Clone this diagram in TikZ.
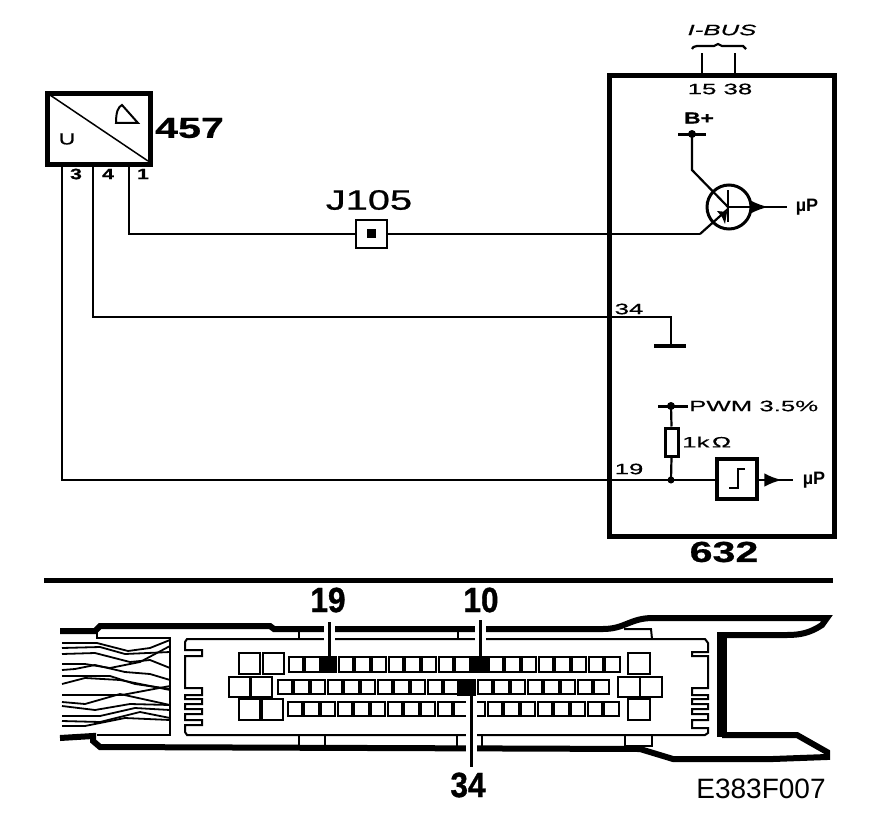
\documentclass[tikz,border=0pt]{standalone}
\usepackage{fontspec}
\usepackage{tikz}
\usetikzlibrary{decorations.markings}
\newfontfamily\smallfont[FakeStretch=1.72,FakeBold=0.6]{Liberation Sans}
\newfontfamily\widefont[FakeStretch=1.42,FakeBold=0.8]{Liberation Sans}
\newfontfamily\pinfont[FakeStretch=0.9,FakeBold=1]{Liberation Sans}
\newfontfamily\codefont{Liberation Sans}
\tikzset{>=latex}

\begin{document}
\begin{tikzpicture}[x=1pt, y=-1pt, line join=miter]
\tikzset{midarrow/.style={postaction={decorate,decoration={markings,mark=at position 0.68 with {\arrow[scale=1.7]{>}}}}}}
\tikzset{wire/.style={line width=2.2pt}}
\tikzset{thinlabel/.style={inner sep=0pt, font=\smallfont\fontsize{15}{15}\selectfont}}
\tikzset{biglabel/.style={inner sep=0pt, font=\widefont\bfseries\fontsize{29}{29}\selectfont}}
\tikzset{pinlabel/.style={inner sep=0pt, font=\pinfont\bfseries\fontsize{35}{35}\selectfont}}
\tikzset{unitbox/.style={draw, line width=5pt, inner sep=0pt}}
\tikzset{pinbox/.style={line width=2pt}}
\tikzset{pointer/.style={line width=3pt, preaction={draw=white, line width=11pt}}}
\tikzset{strand/.style={line width=1.8pt, line join=round}}
\useasboundingbox (0,0) rectangle (896,824);

    \node[unitbox, minimum width=102.5pt, minimum height=70.5pt] (Sensor) at (98.75,128.75) {};
    \node[unitbox, minimum width=225pt, minimum height=460.5pt] (Ecu) at (722,305.75) {};

    \coordinate (W3) at (62,166);
    \coordinate (W4) at (93,166);
    \coordinate (W1) at (129,166);
    \coordinate (Bus15) at (702,73);
    \coordinate (Bus38) at (735,73);
    \coordinate (Bus15t) at (702,53);
    \coordinate (Bus38t) at (735,53);

    \node[draw, line width=2pt, minimum width=31pt, minimum height=28pt, inner sep=0pt] (J105) at (371.5,234) {};
    \node[fill, minimum size=9pt, inner sep=0pt] (J105c) at (371.5,233.5) {};

    \node[circle, draw, line width=3pt, minimum size=44pt, inner sep=0pt] (Tr) at (729,207) {};
    \coordinate (TrB) at (728,207);
    \coordinate (TrE) at (728,209);
    \coordinate (TrEo) at (700,234);
    \coordinate (TrC) at (692,170);
    \coordinate (BatDot) at (692,134);
    \coordinate (TrOut) at (787,207);

    \coordinate (GndT) at (671,317);
    \coordinate (Gnd) at (671,346);
    \coordinate (PwmDot) at (671,406);
    \coordinate (Pull) at (671,480);

    \node[draw, line width=3pt, minimum width=13pt, minimum height=28pt, inner sep=0pt] (Res) at (671.5,442) {};
    \node[draw, line width=4pt, minimum width=40pt, minimum height=40pt, inner sep=0pt] (Trig) at (736.5,479) {};
    \coordinate (TrigOut) at (793,480);

% % % % % % % % % % % % % % % % % % %
    \draw[line width=1.5pt] (Sensor.north west) ++(2,2) -- (148,161);
    \draw[line width=2pt] (116,123) .. controls (116,112) and (118,107) .. (122,105) -- (138,123) -- cycle;
    \node[inner sep=0pt, font=\widefont\fontsize{16}{16}\selectfont] (SensorU) at (67,139) {U};
    \node[biglabel, anchor=west] (L457) at (155,128) {457};
    \node[inner sep=0pt, font=\widefont\bfseries\fontsize{15}{15}\selectfont] (L3) at (76,174) {3};
    \node[inner sep=0pt, font=\widefont\bfseries\fontsize{15}{15}\selectfont] (L4) at (108,174) {4};
    \node[inner sep=0pt, font=\widefont\bfseries\fontsize{15}{15}\selectfont] (L1) at (143,174) {1};

    \draw[wire] (W1) |- (J105.west);
    \draw[wire] (J105.east) -- (TrEo);
    \draw[wire] (W4) |- (GndT) -- (Gnd);
    \draw[wire] (W3) |- (Pull);
    \node[inner sep=0pt, font=\widefont\fontsize{28}{28}\selectfont] (LJ105) at (369,200) {J105};
% % % % % % % % % % % % % % % % % % %
    \draw[wire] (Bus15) -- (Bus15t);
    \draw[wire] (Bus38) -- (Bus38t);
    \draw[wire] (692,49) .. controls (693,47) .. (697,46) -- (714,46) -- (718,44) -- (722,46) -- (743,46) -- (746,49);
    \node[thinlabel, font=\smallfont\itshape\fontsize{15}{15}\selectfont] (LBus) at (722,30) {I-BUS};
    \node[thinlabel] (LPins) at (720,89) {15 38};

    \node[thinlabel, font=\widefont\bfseries\fontsize{16}{16}\selectfont] (LBat) at (699,118) {B+};
    \draw[line width=3pt] (678,134) -- (706,134);
    \fill (BatDot) circle (4);
    \draw[wire] (BatDot) -- (TrC) -- (TrB);
    \draw[line width=2pt] (728,190) -- (728,222);
    \draw[wire] (TrEo) -- (TrE);
    \fill (727,212) -- (717,211) -- (722,217) -- (725,224) -- cycle;
    \draw[line width=2.5pt, midarrow] (TrB) -- (TrOut);
    \node[thinlabel, font=\codefont\bfseries\fontsize{18}{18}\selectfont] (LTr) at (807,207) {µP};

    \node[thinlabel] (L34) at (629,309) {34};
    \draw[line width=4pt] (654,346) -- (686,346);

    \draw[line width=3pt] (658,406) -- (688,406);
    \fill (PwmDot) circle (4);
    \node[thinlabel, anchor=west] (LPwm) at (689,406) {PWM 3.5\%};
    \draw[wire] (PwmDot) -- (Res.north);
    \draw[wire] (Res.south) -- (Pull);
    \node[thinlabel, anchor=west] (LRes) at (682,442) {1k$\,$Ω};
    \node[thinlabel] (L19) at (629,469) {19};
    \fill (Pull) circle (3.5);
    \draw[wire] (Pull) -- (Trig.west |- Pull);
    \draw[wire] (729,488) -- (738,488) -- (738,469) -- (745,469);
    \draw[line width=2.5pt, midarrow] (Trig.east |- TrigOut) -- (TrigOut);
    \node[thinlabel, font=\codefont\bfseries\fontsize{18}{18}\selectfont] (LTrig) at (814,480) {µP};
    \node[biglabel] (L632) at (724,552) {632};
% % % % % % % % % % % % % % % % % % %
    \draw[line width=5pt] (44,580) -- (833,580);

    % housing of the plug
    \draw[line width=6pt] (60,631) -- (95,631) -- (100,626) -- (270,626) -- (274,629) -- (603,629)
        .. controls (625,629) and (630,618) .. (653,618) -- (827,618) -- (822,625)
        .. controls (810,633) and (800,635) .. (787,635) -- (722,635);
    \draw[line width=10pt] (722,632) -- (722,737);
    \draw[line width=6pt] (722,735) -- (797,735) -- (827,752) -- (827,757) -- (773,759) -- (673,759)
        -- (640,749) -- (100,747) -- (93,741) -- (93,736) -- (60,738);
    \draw[line width=2pt] (97,632) -- (97,638) -- (170,638) -- (170,735) -- (97,735);
    \draw[line width=2pt] (187,639) -- (705,639) -- (708,643) -- (708,652) -- (692,652) -- (692,656) -- (708,656)
        -- (708,688) -- (692,688) -- (692,695) -- (708,695) -- (708,699) -- (692,699) -- (692,704) -- (708,704)
        -- (708,709) -- (692,709) -- (692,714) -- (708,714) -- (708,720) -- (692,720) -- (692,728) -- (708,728) -- (708,733) -- (705,735)
        -- (187,735) -- (185,732) -- (185,725) -- (202,725) -- (202,720) -- (185,720) -- (185,714) -- (202,714) -- (202,709)
        -- (185,709) -- (185,704) -- (202,704) -- (202,699) -- (185,699) -- (185,695) -- (202,695) -- (202,688) -- (185,688) -- (185,656)
        -- (202,656) -- (202,650) -- (185,650) -- (185,642) -- cycle;
    \draw[line width=2pt] (299,630) -- (299,639);
    \draw[line width=2pt] (458,630) -- (458,639);
    \draw[line width=2pt] (299,735) -- (299,746);
    \draw[line width=2pt] (325,735) -- (325,746);
    \draw[line width=2pt] (457,735) -- (457,746);
    \draw[line width=2pt] (482,735) -- (482,746);
    \draw[line width=2pt] (625,630) -- (625,629) -- (651,629) -- (652,639);
    \draw[line width=2pt] (625,735) -- (625,746) -- (652,746) -- (652,735);

    % wires going into the plug
    \draw[strand] (62,643) -- (97,643) -- (128,651) -- (150,648) -- (170,640);
    \draw[strand] (62,648) -- (100,647) -- (125,654) -- (170,652);
    \draw[strand] (62,654) -- (95,653) -- (130,662) -- (150,660) -- (170,668);
    \draw[strand] (62,664) -- (85,664) -- (110,668) -- (140,662) -- (170,646);
    \draw[strand] (62,670) -- (75,669) -- (95,665) -- (125,672) -- (150,674) -- (170,680);
    \draw[strand] (62,676) -- (110,676) -- (135,684) -- (170,689);
    \draw[strand] (62,684) -- (85,678) -- (120,680) -- (150,686) -- (170,690);
    \draw[strand] (62,695) -- (122,695) -- (170,686);
    \draw[strand] (62,702) -- (85,704) -- (120,694) -- (170,705);
    \draw[strand] (62,706) -- (95,710) -- (130,704) -- (170,705);
    \draw[strand] (62,716) -- (100,716) -- (135,708) -- (170,710);
    \draw[strand] (62,721) -- (100,722) -- (140,712) -- (170,718);
    \draw[strand] (62,726) -- (85,726) -- (125,718) -- (170,720);

    % pins, row by row
    \foreach \i in {0,...,19} {
        \draw[pinbox] ({288.5+16.67*\i},657) rectangle +(14.5,15);
        \draw[pinbox] ({277.5+16.67*\i},680) rectangle +(14.5,14);
        \draw[pinbox] ({287.5+16.67*\i},702) rectangle +(14.5,14);
    }
    \foreach \bx/\by/\bw/\bh in {239/653/21/21, 263/653/21/21, 628/653/22/21,
        229/677/21/20, 251/677/21/20, 618/677/22/20, 640/677/22/20,
        239/699/21/21, 262/699/21/21, 628/699/22/21} {
        \draw[pinbox] (\bx,\by) rectangle +(\bw,\bh);
    }

    \coordinate (P19t) at (329,622);
    \coordinate (P19) at (329,665);
    \coordinate (P10t) at (480,620);
    \coordinate (P10) at (480,660);
    \coordinate (P34) at (471,696);
    \coordinate (P34b) at (471,767);
    \draw[pointer] (P19t) -- (P19);
    \draw[pointer] (P10t) -- (P10);
    \draw[pointer] (P34) -- (P34b);
    \fill (322,656) rectangle (336,673);
    \fill (472,656) rectangle (489,673);
    \fill (457,679) rectangle (476,696);

    \node[pinlabel] (L19p) at (328,600) {19};
    \node[pinlabel] (L10p) at (481,600) {10};
    \node[pinlabel] (L34p) at (468,785) {34};
    \node[inner sep=0pt, font=\codefont\fontsize{28}{28}\selectfont] (LCode) at (761,789) {E383F007};
\end{tikzpicture}
\end{document}
